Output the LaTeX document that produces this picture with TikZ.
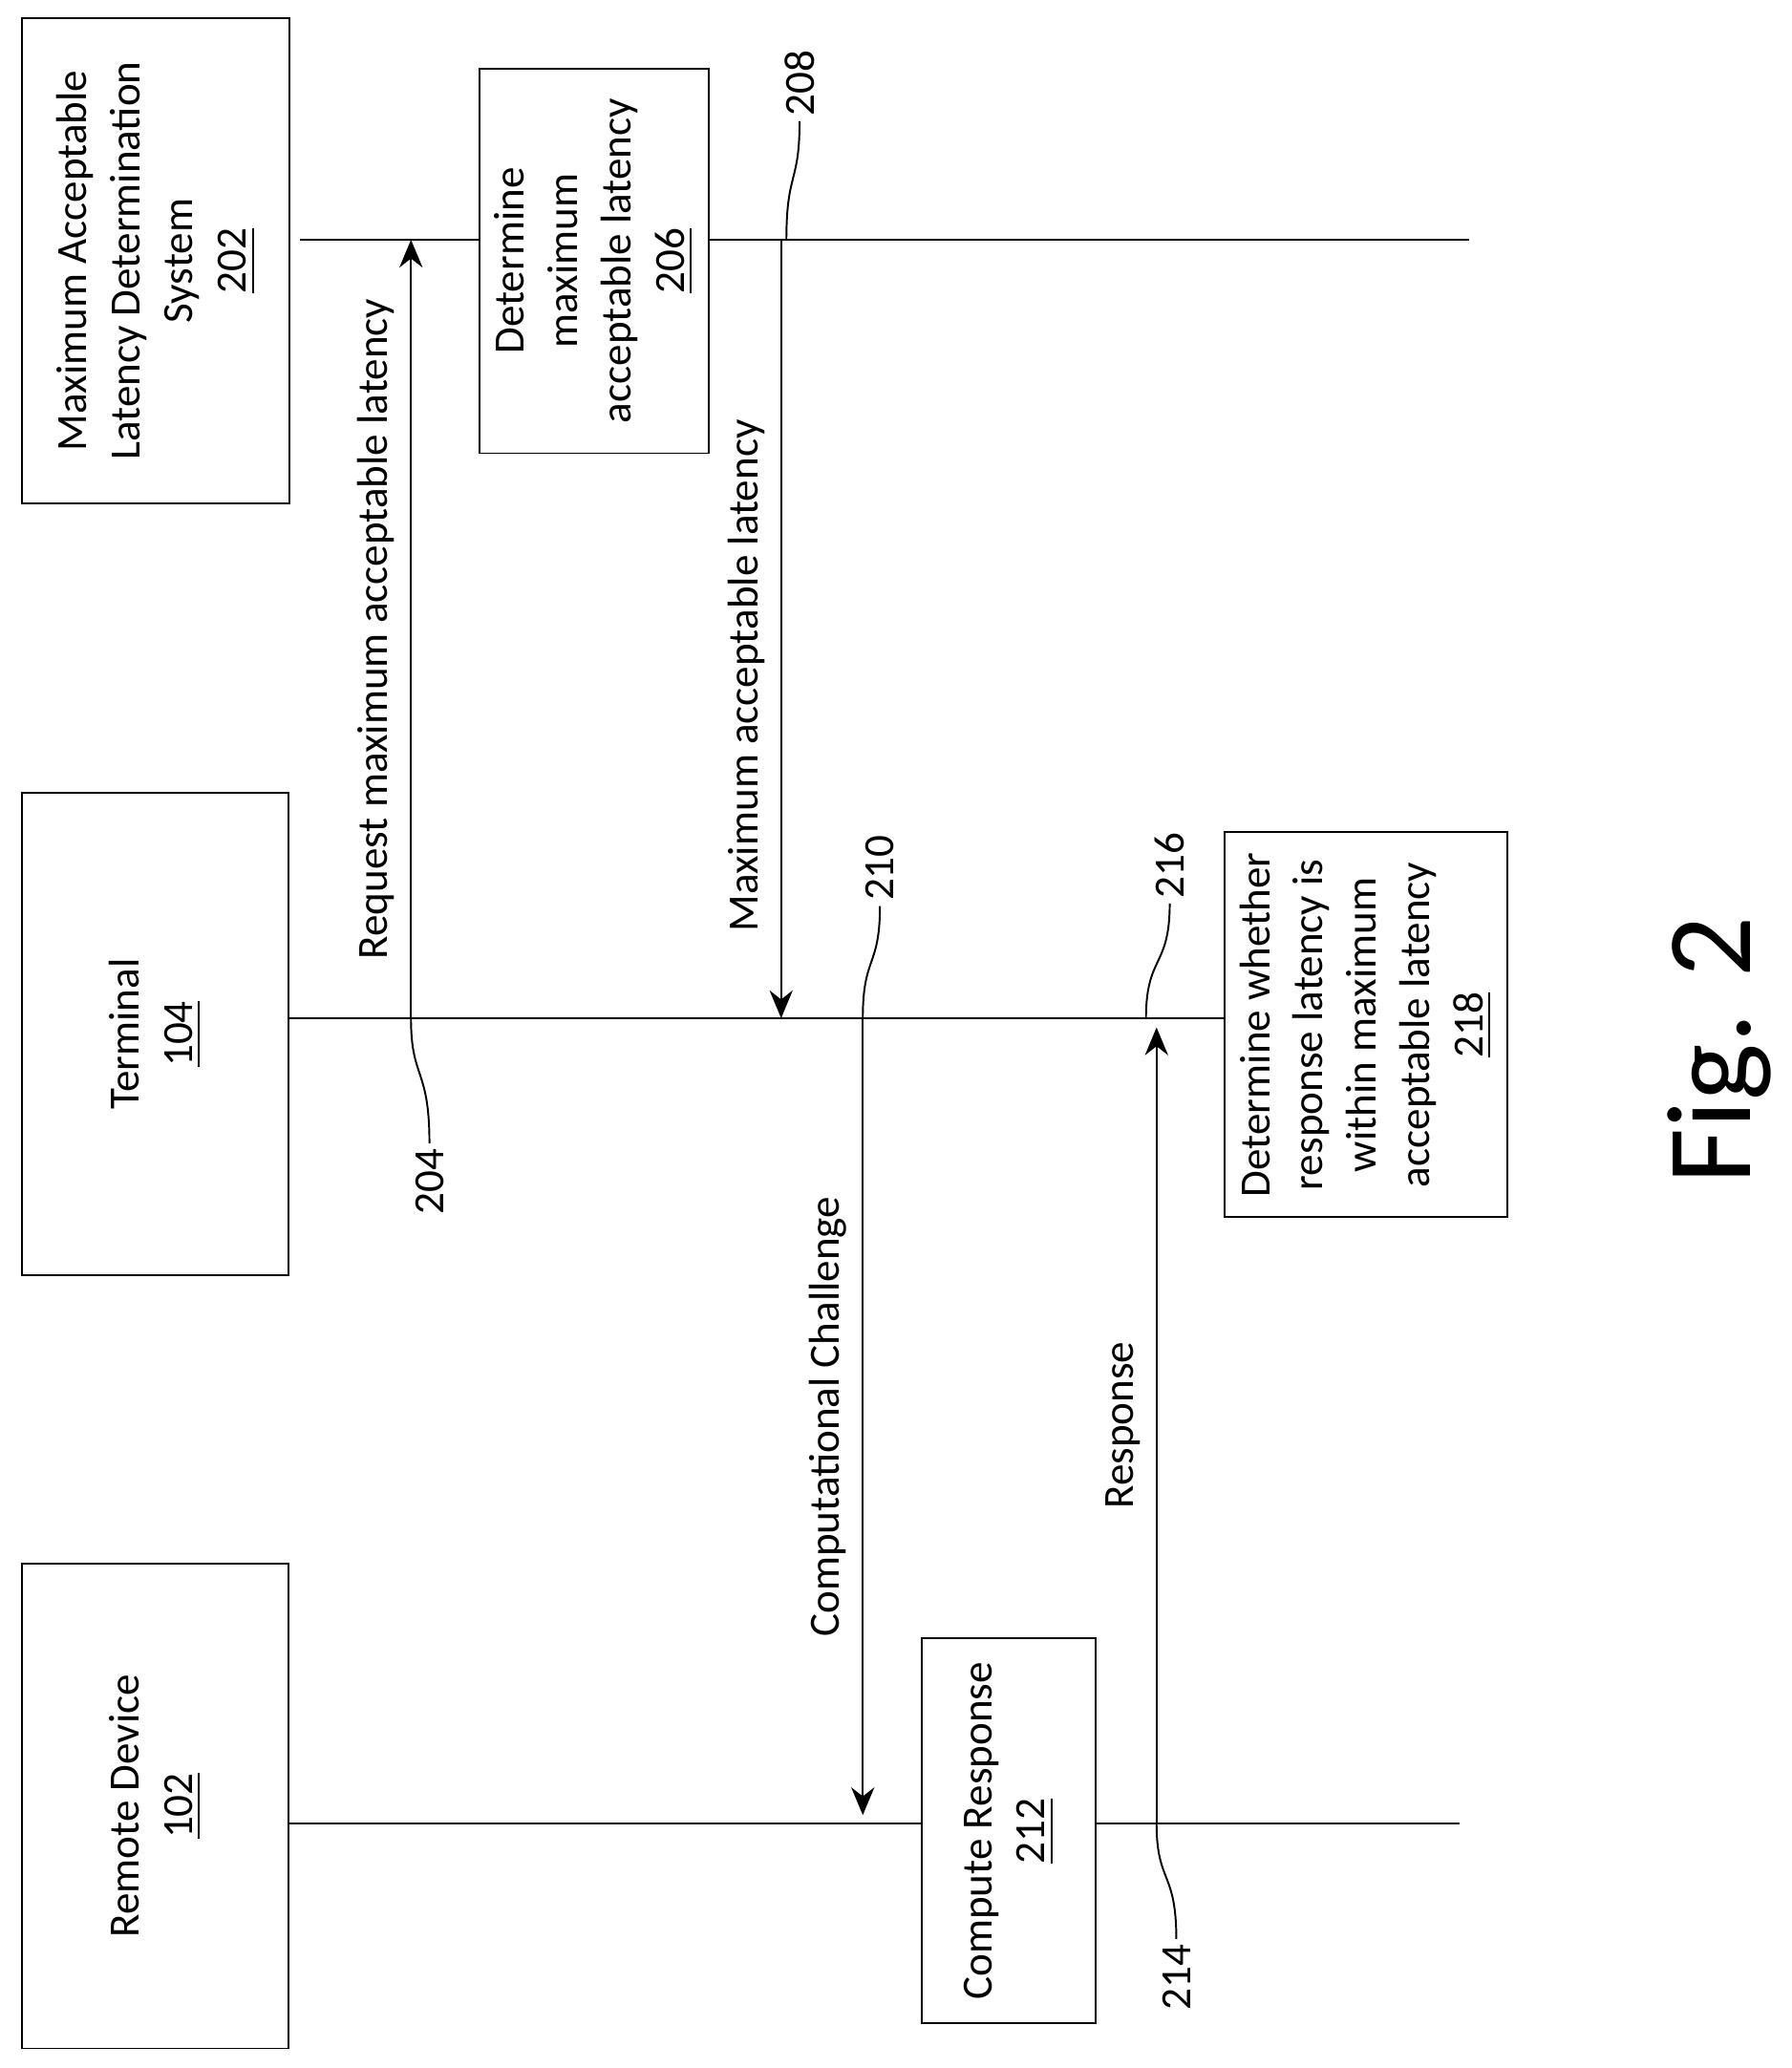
\documentclass[tikz,border=0pt]{standalone}
\usepackage{fontspec}
\setmainfont{Carlito}
\usetikzlibrary{arrows.meta}
\tikzset{
  box/.style={draw, rotate=90, align=center, font=\fontsize{9.3}{11.5}\selectfont},
  msg/.style={rotate=90, font=\fontsize{9.3}{11.5}\selectfont},
  ref/.style={rotate=90, inner sep=1pt, font=\fontsize{9.3}{11.5}\selectfont},
  flow/.style={-{Stealth[length=6pt,width=5pt]}},
}
\begin{document}
\begin{tikzpicture}[x=0.01cm, y=-0.01cm]
    \useasboundingbox (0,0) rectangle (1360,1570);
    % Participants
    \node[box, minimum width=3.68cm, minimum height=2.03cm] (mal) at (118.5,198) {Maximum Acceptable\\Latency Determination\\System\\\underline{202}};
    \node[box, minimum width=3.66cm, minimum height=2.02cm] (term) at (118,785) {Terminal\\\underline{104}};
    \node[box, minimum width=3.68cm, minimum height=2.02cm] (rem) at (118,1371) {Remote Device\\\underline{102}};

    % Process boxes
    \node[box, minimum width=2.92cm, minimum height=1.66cm, fill=white] (det) at (451,198) {Determine\\maximum\\acceptable latency\\\underline{206}};
    \node[box, minimum width=2.92cm, minimum height=2.14cm] (chk) at (1037,778) {Determine whether\\response latency is\\within maximum\\acceptable latency\\\underline{218}};
    \node[box, minimum width=2.92cm, minimum height=1.32cm] (cmp) at (766,1390) {Compute Response\\\underline{212}};

    % Lifelines
    \coordinate (l1a) at (228,182);
    \coordinate (l1b) at (1115,182);
    \draw (l1a) -- (det.north |- l1a);
    \draw (det.south |- l1a) -- (l1b);
    \coordinate (l2a) at (219,773);
    \draw (l2a) -- (chk.north |- l2a);
    \coordinate (l3a) at (219,1384);
    \coordinate (l3b) at (1108,1384);
    \draw (l3a) -- (cmp.north |- l3a);
    \draw (cmp.south |- l3a) -- (l3b);

    % Messages
    \coordinate (a1) at (312,773);
    \coordinate (a2) at (312,182);
    \draw[flow] (a1) -- node[msg, anchor=south] {Request maximum acceptable latency} (a2);
    \coordinate (b1) at (593,182);
    \coordinate (b2) at (593,773);
    \draw[flow] (b1) -- node[msg, anchor=south, pos=0.56] {Maximum acceptable latency} (b2);
    \coordinate (c1) at (655,773);
    \coordinate (c2) at (655,1378);
    \draw[flow] (c1) -- node[msg, anchor=south, pos=0.5] {Computational Challenge} (c2);
    \coordinate (d1) at (878,1384);
    \coordinate (d2) at (878,780);
    \draw[flow] (d1) -- node[msg, anchor=south, pos=0.5] {Response} (d2);

    % Reference numerals
    \node[ref, anchor=west] (r208) at (607,92) {208};
    \draw (597,182) .. controls (597,130) and (607,140) .. (r208.west);
    \node[ref, anchor=east] (r204) at (326,868) {204};
    \draw (312,773) .. controls (312,820) and (326,810) .. (r204.east);
    \node[ref, anchor=west] (r210) at (668,688) {210};
    \draw (655,773) .. controls (655,725) and (668,735) .. (r210.west);
    \node[ref, anchor=west] (r216) at (888,686) {216};
    \draw (870,773) .. controls (870,725) and (888,735) .. (r216.west);
    \node[ref, anchor=east] (r214) at (893,1472) {214};
    \draw (878,1384) .. controls (878,1430) and (893,1420) .. (r214.east);

    \node[rotate=90, font=\fontsize{26}{30}\selectfont] (fig) at (1305,797) {Fig. 2};
\end{tikzpicture}
\end{document}
